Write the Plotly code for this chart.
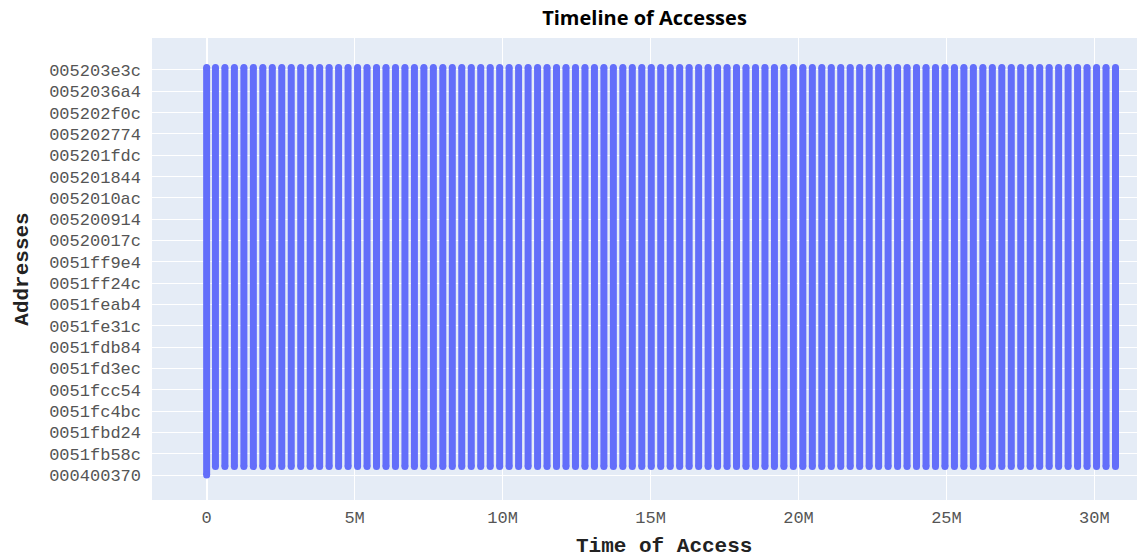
import plotly.graph_objects as go

# Y-axis tick labels (addresses), bottom to top
address_labels = [
    "000400370", "0051fb58c", "0051fbd24", "0051fc4bc", "0051fcc54",
    "0051fd3ec", "0051fdb84", "0051fe31c", "0051feab4", "0051ff24c",
    "0051ff9e4", "00520017c", "005200914", "0052010ac", "005201844",
    "005201fdc", "005202774", "005202f0c", "0052036a4", "005203e3c",
]

# Start times (access index) of each sweep through the address range
sweep_times = [
    0, 297000, 617000, 937000, 1258000, 1578000, 1898000, 2218000, 2538000, 2858000,
    3179000, 3499000, 3819000, 4139000, 4459000, 4779000, 5100000, 5420000, 5740000,
    6060000, 6380000, 6700000, 7021000, 7341000, 7661000, 7981000, 8301000, 8621000,
    8942000, 9262000, 9582000, 9902000, 10222000, 10542000, 10863000, 11183000,
    11503000, 11823000, 12143000, 12463000, 12784000, 13104000, 13424000, 13744000,
    14064000, 14384000, 14705000, 15025000, 15345000, 15665000, 15985000, 16305000,
    16626000, 16946000, 17266000, 17586000, 17906000, 18226000, 18547000, 18867000,
    19187000, 19507000, 19827000, 20147000, 20468000, 20788000, 21108000, 21428000,
    21748000, 22068000, 22389000, 22709000, 23029000, 23349000, 23669000, 23989000,
    24310000, 24630000, 24950000, 25270000, 25590000, 25910000, 26231000, 26551000,
    26871000, 27191000, 27511000, 27831000, 28152000, 28472000, 28792000, 29112000,
    29432000, 29752000, 30073000, 30393000, 30713000,
]

# Address levels (in tick units) reached by each sweep
first_sweep_low = 0.0
sweep_low = 0.4
sweep_high = 19.12

xs, ys = [], []
for i, t in enumerate(sweep_times):
    lo = first_sweep_low if i == 0 else sweep_low
    xs += [t, t, None]
    ys += [lo, sweep_high, None]

fig = go.Figure()
fig.add_trace(go.Scatter(
    x=xs, y=ys, mode="lines+markers",
    line=dict(color="#636efa", width=7),
    marker=dict(color="#636efa", size=7),
    connectgaps=False, showlegend=False,
))

mono = "Courier New, Liberation Mono, monospace"
fig.update_layout(
    template="plotly",
    width=1139, height=557,
    margin=dict(l=152, r=2, t=38, b=57),
    title=dict(text="<b>Timeline of Accesses</b>", x=0.5, xref="paper", xanchor="center",
               y=0.968, yref="container", yanchor="middle",
               font=dict(family="Open Sans, Arial, sans-serif", size=20, color="black")),
    xaxis=dict(
        tickfont=dict(family=mono, size=17, color="#555"),
        ticklabelstandoff=5,
        range=[-1847000, 31440000],
        tickvals=[0, 5e6, 10e6, 15e6, 20e6, 25e6, 30e6],
        ticktext=["0", "5M", "10M", "15M", "20M", "25M", "30M"],
    ),
    yaxis=dict(
        title=dict(text="<b>Addresses</b>", font=dict(family=mono, size=21, color="#222"), standoff=14),
        tickfont=dict(family=mono, size=17, color="#555"),
        ticklabelstandoff=10,
        tickvals=list(range(len(address_labels))),
        ticktext=address_labels,
        range=[-1.17, 20.5],
        zeroline=False,
    ),
    annotations=[dict(
        text="<b>Time of Access</b>", xref="paper", yref="paper",
        x=(663.5 - 152) / (1139 - 152 - 2), y=-0.0996,
        xanchor="center", yanchor="middle", showarrow=False,
        font=dict(family=mono, size=21, color="#222"),
    )],
)

fig.write_html("out.html")
